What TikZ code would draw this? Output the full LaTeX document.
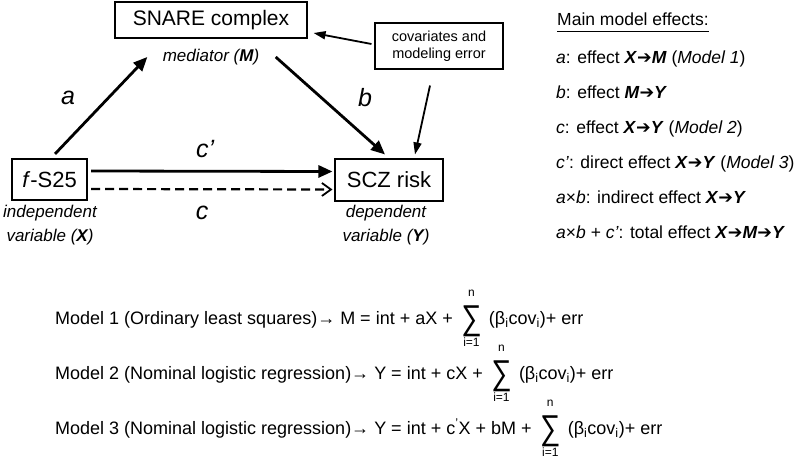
\documentclass[tikz,border=0pt]{standalone}
\usepackage{fontspec}
\usepackage{graphicx}
\setmainfont{Liberation Sans}
\newfontfamily\djv{DejaVu Sans}
\usetikzlibrary{arrows.meta}
\newcommand\fsz[1]{\fontsize{#1}{#1}\selectfont}
\newcommand\harr{{\djv\mdseries\upshape\symbol{"2794}}}
\newcommand\bigsig{\scalebox{0.95}[1.15]{∑}}
\tikzset{
  box/.style={draw, line width=1.1pt, inner sep=0pt},
  lbl/.style={font=\fontsize{17}{24}\selectfont\itshape, align=center},
  biglbl/.style={font=\fsz{25}\itshape, inner sep=0pt},
  bigarr/.style={line width=2.8pt, -{Triangle[length=14pt,width=12pt]}},
  thinarr/.style={line width=1.8pt, -{Triangle[length=12pt,width=8pt]}},
  rp/.style={font=\fsz{17.5}, inner sep=0pt, anchor=base west},
  eq/.style={font=\fsz{18}, inner sep=0pt},
  sig/.style={font=\fsz{30}, inner sep=0pt},
  lim/.style={font=\fsz{12}, inner sep=0pt, anchor=base}
}
\begin{document}
\begin{tikzpicture}[x=1pt,y=-1pt]
\useasboundingbox (0,0) rectangle (800,457);
% diagram nodes
\node[box, minimum width=192pt, minimum height=36pt, font=\fsz{21}] (snare) at (211,20) {SNARE complex};
\node[lbl] (med) at (211,57) {mediator (\textbf{M})};
\node[box, minimum width=128pt, minimum height=46pt, align=center, font=\fontsize{14.5}{17}\selectfont] (cov) at (439,46) {covariates and\\modeling error};
\node[box, minimum width=75pt, minimum height=41pt, font=\fsz{22}] (fs) at (49.5,179.5) {\textit{f}-S25};
\node[box, minimum width=108pt, minimum height=42pt, font=\fsz{22}] (scz) at (389,180) {SCZ risk};
\node[lbl] (indep) at (50,225) {independent\\variable (\textbf{X})};
\node[lbl] (dep) at (386,225) {dependent\\variable (\textbf{Y})};
\node[biglbl] (la) at (68,98) {a};
\node[biglbl] (lb) at (365,98) {b};
\node[biglbl, anchor=base west] (lcp) at (196,158) {c’};
\node[biglbl] (lc) at (202,213) {c};
% connectors
\draw[bigarr] ([shift={(5.5,-4.5)}]fs.north) -- ([shift={(-12,0)}]med.west);
\draw[bigarr] ([shift={(13,0)}]med.east) -- ([shift={(-4,-4)}]scz.north);
\draw[thinarr] ([shift={(-3,-2)}]cov.west) -- ([shift={(6,13)}]snare.east);
\draw[thinarr] ([shift={(-9,16)}]cov.south) -- ([shift={(26,-4)}]scz.north);
\draw[bigarr] ([shift={(3.5,-8.5)}]fs.east) -- ([shift={(-2,-8.5)}]scz.west);
\draw[line width=2.2pt, dash pattern=on 9pt off 5pt, -{Straight Barb[length=9pt,width=13pt,line width=1.8pt]}] ([shift={(3.5,9.5)}]fs.east) -- ([shift={(-2,9.5)}]scz.west);
% main model effects
\node[rp] (t0) at (557,26) {Main model effects:};
\draw[line width=1pt] ([yshift=-6pt]t0.base west) -- ([yshift=-6pt]t0.base east);
\node[rp] (t1) at (556,64) {\textit{a}: effect \textbf{\textit{X}}\harr\textbf{\textit{M}} (\textit{Model 1})};
\node[rp] (t2) at (556,99) {\textit{b}: effect \textbf{\textit{M}}\harr\textbf{\textit{Y}}};
\node[rp] (t3) at (556,134) {\textit{c}: effect \textbf{\textit{X}}\harr\textbf{\textit{Y}} (\textit{Model 2})};
\node[rp] (t4) at (556,169) {\textit{c’}: direct effect \textbf{\textit{X}}\harr\textbf{\textit{Y}} (\textit{Model 3})};
\node[rp] (t5) at (556,204) {\textit{a}×\textit{b}: indirect effect \textbf{\textit{X}}\harr\textbf{\textit{Y}}};
\node[rp] (t6) at (556,238) {\textit{a}×\textit{b} + \textit{c’}: total effect \textbf{\textit{X}}\harr\textbf{\textit{M}}\harr\textbf{\textit{Y}}};
% equations
\node[eq, anchor=base west] (e1) at (55,324) {Model 1 (Ordinary least squares)→ M = int + aX +};
\node[sig, anchor=west] (s1) at ([xshift=8pt,yshift=2.5pt]e1.base east) {\bigsig};
\node[lim] (n1) at ([yshift=28pt]s1.center |- e1.base) {n};
\node[lim] (i1) at ([yshift=-22.5pt]s1.center |- e1.base) {i=1};
\node[eq, anchor=base west] (r1) at ([xshift=7pt]s1.east |- e1.base) {(β\textsubscript{i}cov\textsubscript{i})+ err};
\node[eq, anchor=base west] (e2) at (55,379) {Model 2 (Nominal logistic regression)→ Y = int + cX +};
\node[sig, anchor=west] (s2) at ([xshift=8pt,yshift=2.5pt]e2.base east) {\bigsig};
\node[lim] (n2) at ([yshift=28pt]s2.center |- e2.base) {n};
\node[lim] (i2) at ([yshift=-22.5pt]s2.center |- e2.base) {i=1};
\node[eq, anchor=base west] (r2) at ([xshift=7pt]s2.east |- e2.base) {(β\textsubscript{i}cov\textsubscript{i})+ err};
\node[eq, anchor=base west] (e3) at (55,434) {Model 3 (Nominal logistic regression)→ Y = int + c\textsuperscript{'}X + bM +};
\node[sig, anchor=west] (s3) at ([xshift=8pt,yshift=2.5pt]e3.base east) {\bigsig};
\node[lim] (n3) at ([yshift=28pt]s3.center |- e3.base) {n};
\node[lim] (i3) at ([yshift=-22.5pt]s3.center |- e3.base) {i=1};
\node[eq, anchor=base west] (r3) at ([xshift=7pt]s3.east |- e3.base) {(β\textsubscript{i}cov\textsubscript{i})+ err};
\end{tikzpicture}
\end{document}
